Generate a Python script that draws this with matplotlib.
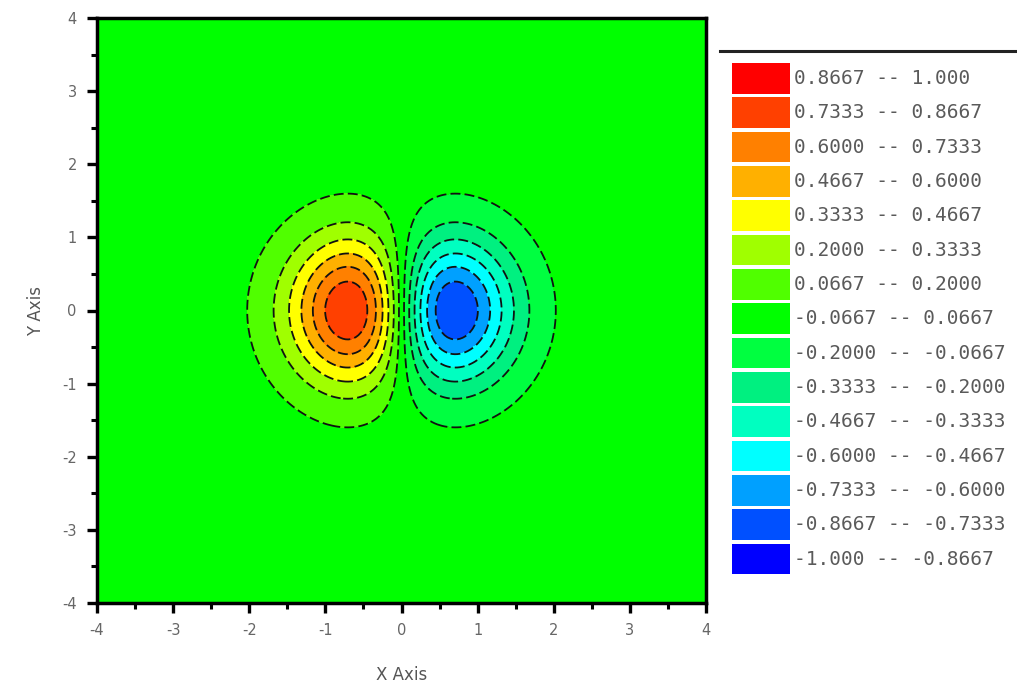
import numpy as np
import matplotlib
matplotlib.use("Agg")
import matplotlib.pyplot as plt
from matplotlib.ticker import MultipleLocator

plt.rcParams["axes.unicode_minus"] = False

# ---- data ----
x_range = [-4.0, 4.0]
y_range = [-4.0, 4.0]
n_grid = 241
amplitude = -2.0   # surface z = amplitude * x * exp(-(x^2 + y^2))
level_edges = [-1.0, -0.8667, -0.7333, -0.6000, -0.4667, -0.3333, -0.2000, -0.0667,
               0.0667, 0.2000, 0.3333, 0.4667, 0.6000, 0.7333, 0.8667, 1.0]
level_colors = ["#0000FF", "#0050FF", "#00A0FF", "#00FFFF", "#00FFC0", "#00F080",
                "#00FF40", "#00FF00", "#50FF00", "#A0FF00", "#FFFF00", "#FFB000",
                "#FF8000", "#FF4000", "#FF0000"]
legend_labels = ["0.8667 -- 1.000", "0.7333 -- 0.8667", "0.6000 -- 0.7333",
                 "0.4667 -- 0.6000", "0.3333 -- 0.4667", "0.2000 -- 0.3333",
                 "0.0667 -- 0.2000", "-0.0667 -- 0.0667", "-0.2000 -- -0.0667",
                 "-0.3333 -- -0.2000", "-0.4667 -- -0.3333", "-0.6000 -- -0.4667",
                 "-0.7333 -- -0.6000", "-0.8667 -- -0.7333", "-1.000 -- -0.8667"]
x_label = "X Axis"
y_label = "Y Axis"

x = np.linspace(x_range[0], x_range[1], n_grid)
y = np.linspace(y_range[0], y_range[1], n_grid)
X, Y = np.meshgrid(x, y)
Z = amplitude * X * np.exp(-(X**2 + Y**2))

fig = plt.figure(figsize=(10.17, 6.88), dpi=100)
ax = fig.add_axes([97/1017, 1 - 603/688, (706-97)/1017, (603-18)/688])
ax.contourf(X, Y, Z, levels=level_edges, colors=level_colors)
ax.contour(X, Y, Z, levels=level_edges[1:-1], colors="#111111",
           linewidths=1.3, linestyles=[(0, (5.5, 2.3))])
ax.set_xlim(x_range)
ax.set_ylim(y_range)
for s in ax.spines.values():
    s.set_linewidth(2.5)
ax.xaxis.set_major_locator(MultipleLocator(1))
ax.xaxis.set_minor_locator(MultipleLocator(0.5))
ax.yaxis.set_major_locator(MultipleLocator(1))
ax.yaxis.set_minor_locator(MultipleLocator(0.5))
ax.tick_params(which="major", direction="out", length=7.5, width=2.4,
               labelsize=10.5, labelcolor="#666666", pad=7)
ax.tick_params(which="minor", direction="out", length=4.5, width=2.2)
ax.set_xlabel(x_label, fontsize=12, color="#555555", labelpad=20)
ax.set_ylabel(y_label, fontsize=12, color="#555555", labelpad=12)

# legend panel
lax = fig.add_axes([0, 0, 1, 1], facecolor="none")
lax.set_xlim(0, 1017)
lax.set_ylim(688, 0)
lax.axis("off")
lax.plot([720, 1017], [51, 51], color="#222222", lw=2.2)
pitch = 34.33
top0 = 63
for i, (lab, col) in enumerate(zip(legend_labels, level_colors[::-1])):
    yt = top0 + i * pitch
    lax.add_patch(plt.Rectangle((732, yt), 58, pitch - 3.5, facecolor=col,
                                edgecolor="none"))
    lax.text(794, yt + (pitch - 3.5) / 2, lab, fontsize=14, color="#5a5a5a",
             family="DejaVu Sans Mono", va="center", ha="left")

fig.savefig("out.png", dpi=100)
